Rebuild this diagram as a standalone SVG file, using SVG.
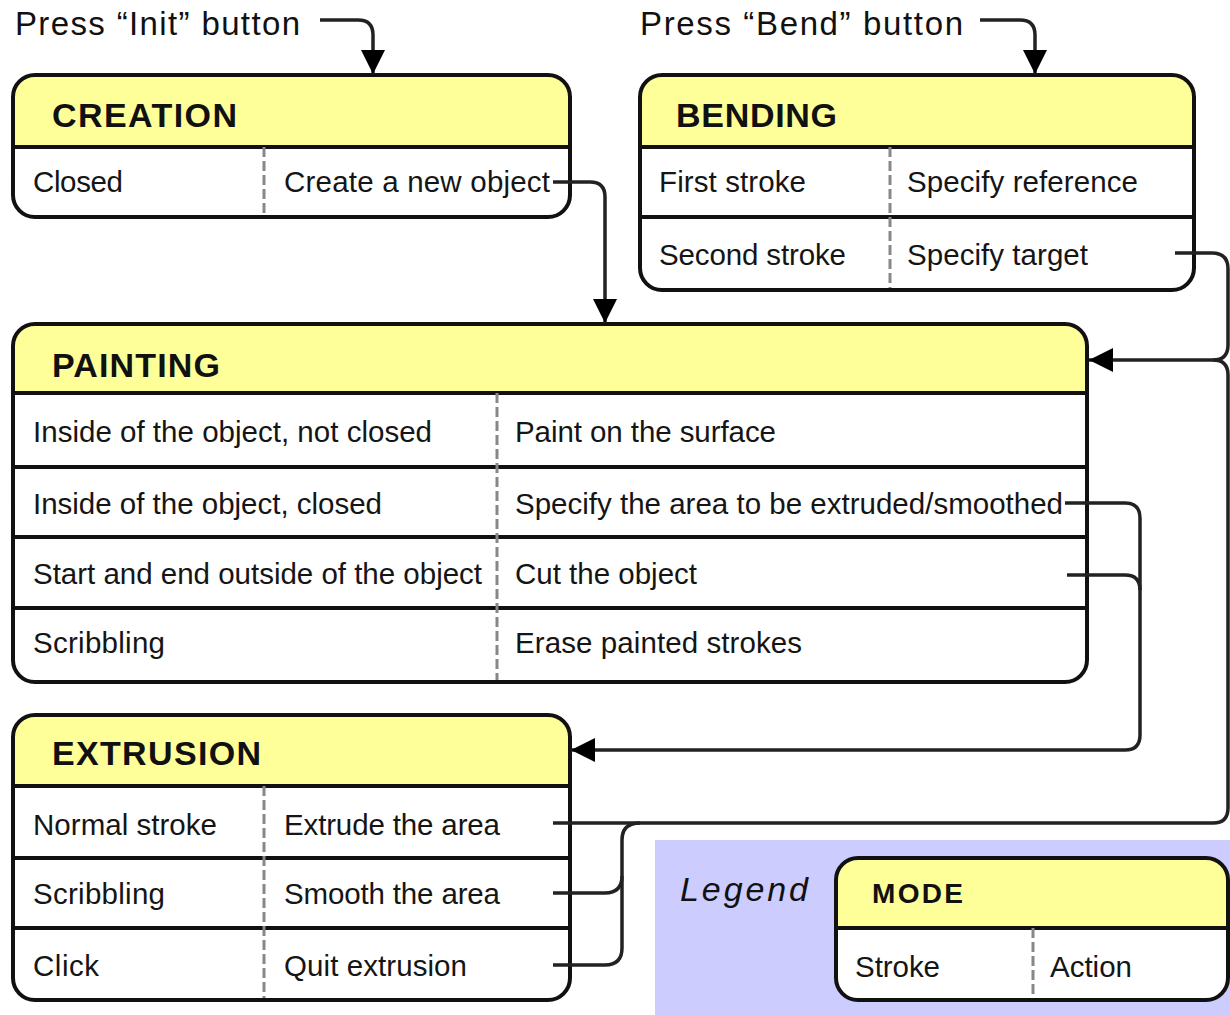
<svg xmlns="http://www.w3.org/2000/svg" width="1230" height="1015" viewBox="0 0 1230 1015">
<style>
.bg{fill:#fff}
.hdr{fill:#ffff99}
.body{fill:#fff}
.out{fill:none;stroke:#111;stroke-width:4}
.sep{stroke:#111;stroke-width:4}
.div{stroke:#888;stroke-width:3;stroke-dasharray:10 4}
.t{font-family:"Liberation Sans",Arial,sans-serif;font-size:29.5px;fill:#151515}
.h{font-family:"Liberation Sans",Arial,sans-serif;font-size:34px;font-weight:bold;fill:#111}
.p{font-family:"Liberation Sans",Arial,sans-serif;font-size:33px;fill:#111}
.c{fill:none;stroke:#222;stroke-width:3.5}
</style>
<defs>
<marker id="arr" markerUnits="userSpaceOnUse" markerWidth="26" markerHeight="26" refX="24" refY="12" orient="auto">
<path d="M0,0 L24,12 L0,24 Z" fill="#000"/>
</marker>
</defs>
<rect class="bg" x="0" y="0" width="1230" height="1015"/>
<rect x="655" y="840" width="575" height="175" fill="#ccccff"/>

<g id="press-init"><text class="p" x="15" y="35" textLength="285">Press “Init” button</text></g>
<g id="press-bend"><text class="p" x="640" y="35" textLength="323">Press “Bend” button</text></g>

<g id="creation">
<rect class="body" x="13" y="75" width="557" height="142" rx="22"/>
<path class="hdr" d="M13,147 V97 A22,22 0 0 1 35,75 H548 A22,22 0 0 1 570,97 V147 Z"/>
<line class="sep" x1="13" y1="147" x2="570" y2="147"/>
<line class="div" x1="264" y1="147" x2="264" y2="217"/>
<rect class="out" x="13" y="75" width="557" height="142" rx="22"/>
<text class="h" x="52" y="127" textLength="185">CREATION</text>
<text class="t" x="33" y="192" textLength="90">Closed</text>
<text class="t" x="284" y="192" textLength="266">Create a new object</text>
</g>

<g id="bending">
<rect class="body" x="640" y="75" width="554" height="215" rx="22"/>
<path class="hdr" d="M640,147 V97 A22,22 0 0 1 662,75 H1172 A22,22 0 0 1 1194,97 V147 Z"/>
<line class="sep" x1="640" y1="147" x2="1194" y2="147"/>
<line class="sep" x1="640" y1="217" x2="1194" y2="217"/>
<line class="div" x1="890" y1="147" x2="890" y2="290"/>
<rect class="out" x="640" y="75" width="554" height="215" rx="22"/>
<text class="h" x="676" y="127" textLength="161">BENDING</text>
<text class="t" x="659" y="192" textLength="147">First stroke</text>
<text class="t" x="907" y="192" textLength="231">Specify reference</text>
<text class="t" x="659" y="265" textLength="187">Second stroke</text>
<text class="t" x="907" y="265" textLength="181">Specify target</text>
</g>

<g id="painting">
<rect class="body" x="13" y="324" width="1074" height="358" rx="22"/>
<path class="hdr" d="M13,393 V346 A22,22 0 0 1 35,324 H1065 A22,22 0 0 1 1087,346 V393 Z"/>
<line class="sep" x1="13" y1="393" x2="1087" y2="393"/>
<line class="sep" x1="13" y1="467" x2="1087" y2="467"/>
<line class="sep" x1="13" y1="537" x2="1087" y2="537"/>
<line class="sep" x1="13" y1="608" x2="1087" y2="608"/>
<line class="div" x1="497" y1="393" x2="497" y2="682"/>
<rect class="out" x="13" y="324" width="1074" height="358" rx="22"/>
<text class="h" x="52" y="377" textLength="168">PAINTING</text>
<text class="t" x="33" y="442" textLength="399">Inside of the object, not closed</text>
<text class="t" x="515" y="442" textLength="261">Paint on the surface</text>
<text class="t" x="33" y="514" textLength="349">Inside of the object, closed</text>
<text class="t" x="515" y="514" textLength="548">Specify the area to be extruded/smoothed</text>
<text class="t" x="33" y="584" textLength="449">Start and end outside of the object</text>
<text class="t" x="515" y="584" textLength="182">Cut the object</text>
<text class="t" x="33" y="653" textLength="132">Scribbling</text>
<text class="t" x="515" y="653" textLength="287">Erase painted strokes</text>
</g>

<g id="extrusion">
<rect class="body" x="13" y="715" width="557" height="285" rx="22"/>
<path class="hdr" d="M13,786 V737 A22,22 0 0 1 35,715 H548 A22,22 0 0 1 570,737 V786 Z"/>
<line class="sep" x1="13" y1="786" x2="570" y2="786"/>
<line class="sep" x1="13" y1="858" x2="570" y2="858"/>
<line class="sep" x1="13" y1="928" x2="570" y2="928"/>
<line class="div" x1="264" y1="786" x2="264" y2="1000"/>
<rect class="out" x="13" y="715" width="557" height="285" rx="22"/>
<text class="h" x="52" y="765" textLength="209">EXTRUSION</text>
<text class="t" x="33" y="835" textLength="184">Normal stroke</text>
<text class="t" x="284" y="835" textLength="216">Extrude the area</text>
<text class="t" x="33" y="904" textLength="132">Scribbling</text>
<text class="t" x="284" y="904" textLength="216">Smooth the area</text>
<text class="t" x="33" y="976" textLength="66">Click</text>
<text class="t" x="284" y="976" textLength="183">Quit extrusion</text>
</g>

<g id="legend">
<text x="680" y="901" font-family="Liberation Sans,Arial,sans-serif" font-style="italic" font-size="34" fill="#111" textLength="128">Legend</text>
</g>

<g id="mode">
<rect class="body" x="836" y="858" width="392" height="142" rx="22"/>
<path class="hdr" d="M836,928 V880 A22,22 0 0 1 858,858 H1206 A22,22 0 0 1 1228,880 V928 Z"/>
<line class="sep" x1="836" y1="928" x2="1228" y2="928"/>
<line class="div" x1="1033" y1="928" x2="1033" y2="1000"/>
<rect class="out" x="836" y="858" width="392" height="142" rx="22"/>
<text class="h" x="872" y="903" style="font-size:28px" textLength="91">MODE</text>
<text class="t" x="855" y="977" textLength="85">Stroke</text>
<text class="t" x="1050" y="977" textLength="82">Action</text>
</g>

<g id="connectors">
<path class="c" d="M320,20 H358 Q373,20 373,35 V74" marker-end="url(#arr)"/>
<path class="c" d="M980,20 H1020 Q1035,20 1035,35 V74" marker-end="url(#arr)"/>
<path class="c" d="M553,182 H590 Q605,182 605,197 V323" marker-end="url(#arr)"/>
<path class="c" d="M1175,253 H1212 Q1228,253 1228,269 V345 Q1228,360 1213,360 H1089" marker-end="url(#arr)"/>
<path class="c" d="M553,823 H1213 Q1228,823 1228,808 V375 Q1228,360 1213,360"/>
<path class="c" d="M553,893 H605 Q622,893 622,876"/>
<path class="c" d="M553,965 H605 Q622,965 622,948 V840 Q622,823 640,823"/>
<path class="c" d="M1065,503 H1125 Q1140,503 1140,518 V735 Q1140,750 1125,750 H571" marker-end="url(#arr)"/>
<path class="c" d="M1067,575 H1125 Q1140,575 1140,590"/>
</g>
</svg>
